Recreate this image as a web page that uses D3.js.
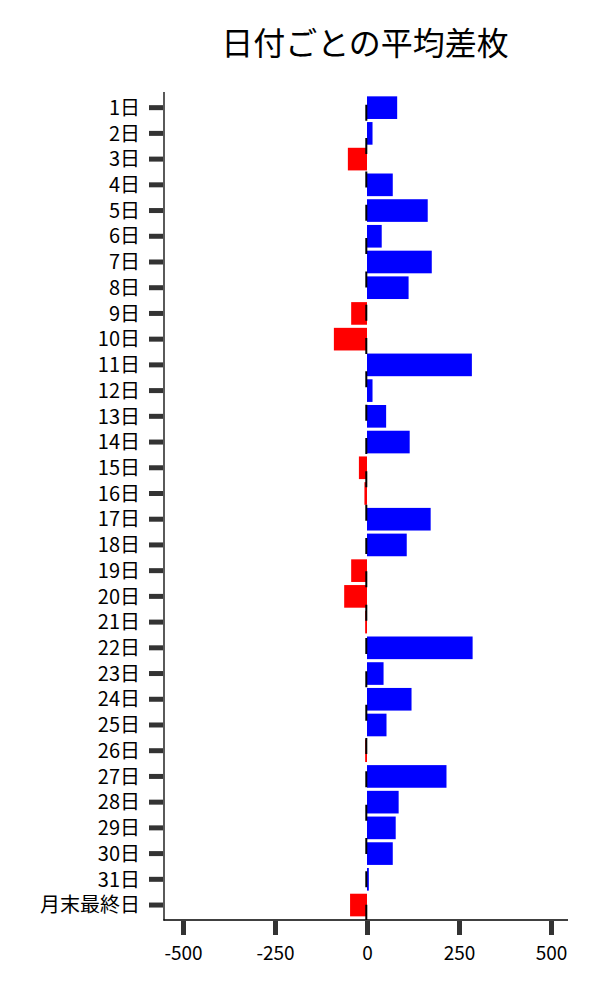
<!DOCTYPE html>
<html><head><meta charset="utf-8">
<script src="https://cdn.jsdelivr.net/npm/d3@7"></script>
<style>body{margin:0;background:#fff;} svg{display:block;}</style>
</head><body>
<script>
const categories = ["1日","2日","3日","4日","5日","6日","7日","8日","9日","10日","11日","12日","13日","14日","15日","16日","17日","18日","19日","20日","21日","22日","23日","24日","25日","26日","27日","28日","29日","30日","31日","月末最終日"];
const values = [82,15,-52,70,165,40,176,113,-43,-90,285,15,52,116,-22,-7,173,108,-43,-62,-5,287,45,121,53,-5,216,86,78,70,5,-46];
const xTicks = [-500,-250,0,250,500];
const title = "日付ごとの平均差枚";

const W = 600, H = 1000;
const font = "'Noto Sans CJK JP','Noto Sans',sans-serif";
const svg = d3.select("body").append("svg").attr("width", W).attr("height", H);

const x = d3.scaleLinear().domain([-500, 500]).range([183, 551]);
const y = d3.scaleBand().domain(categories).range([94.8, 917.9]).padding(0);
const step = y.step();

// bars
svg.append("g").selectAll("rect").data(categories).join("rect")
  .attr("x", (d,i) => x(Math.min(0, values[i])))
  .attr("width", (d,i) => Math.abs(x(values[i]) - x(0)))
  .attr("y", d => y(d) + step*0.06)
  .attr("height", step*0.88)
  .attr("fill", (d,i) => values[i] >= 0 ? "#0000ff" : "#ff0000");

// dashed zero line
svg.append("line")
  .attr("x1", x(0) - 0.7).attr("x2", x(0) - 0.7)
  .attr("y1", 92).attr("y2", 920)
  .attr("stroke", "#000").attr("stroke-width", 2)
  .attr("stroke-dasharray", "16,17.33")
  .attr("stroke-dashoffset", 20.6);

// spines
svg.append("line").attr("x1",164).attr("x2",164).attr("y1",92).attr("y2",920.6)
  .attr("stroke","#000").attr("stroke-width",1.3);
svg.append("line").attr("x1",163.4).attr("x2",568).attr("y1",920).attr("y2",920)
  .attr("stroke","#000").attr("stroke-width",1.3);

// y axis
const yAxis = d3.axisLeft(y).tickSize(14).tickPadding(9);
const gy = svg.append("g").attr("transform","translate(163,0)").call(yAxis);
gy.select(".domain").remove();
gy.selectAll(".tick line").attr("stroke","#333").attr("stroke-width",5);
gy.selectAll(".tick text").attr("font-family", font).attr("font-size", 20).attr("fill","#000").attr("dy","0.36em");

// x axis
const xAxis = d3.axisBottom(x).tickValues(xTicks).tickSize(14).tickPadding(12).tickFormat(d => String(d));
const gx = svg.append("g").attr("transform","translate(0,921)").call(xAxis);
gx.select(".domain").remove();
gx.selectAll(".tick line").attr("stroke","#333").attr("stroke-width",5);
gx.selectAll(".tick text").attr("font-family", font).attr("font-size", 19).attr("fill","#000");

// title
svg.append("text").attr("x", 365).attr("y", 55).attr("text-anchor","middle")
  .attr("font-family", font).attr("font-size", 32).attr("fill","#000").text(title);
</script>
</body></html>
